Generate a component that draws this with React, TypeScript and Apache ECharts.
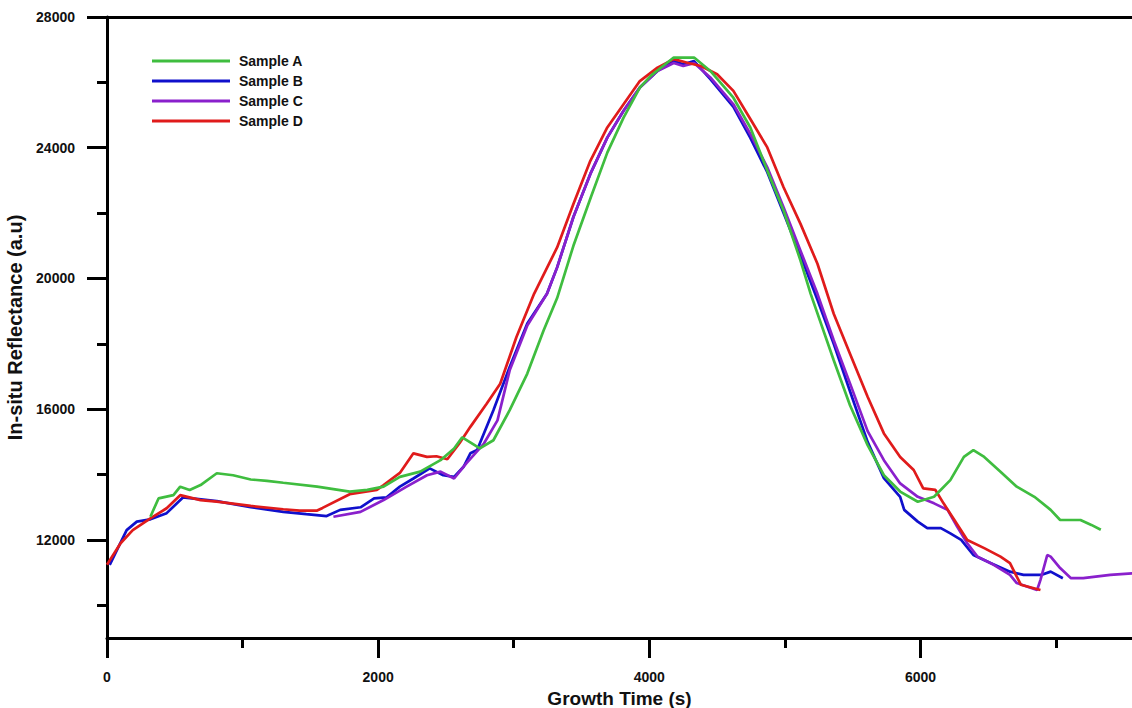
import React, { useEffect, useRef } from "react";
import * as echarts from "echarts";

const seriesNames = ["Sample A", "Sample B", "Sample C", "Sample D"];
const seriesColors = ["#3fbd3f", "#1010cc", "#8a20cc", "#e01b1b"];

const xMajorTicks = [0, 2000, 4000, 6000];
const xMinorTicks = [1000, 3000, 5000, 7000];
const yMajorTicks = [12000, 16000, 20000, 24000, 28000];
const yMinorTicks = [10000, 14000, 18000, 22000, 26000];

// Sample A (green)
const sampleATime = [320, 380, 490, 540, 610, 690, 810, 930, 1060, 1180, 1300, 1550, 1790, 1920, 2040, 2160, 2310, 2460, 2560, 2620, 2750, 2850, 2970, 3100, 3220, 3320, 3440, 3570, 3690, 3810, 3930, 4010, 4180, 4330, 4450, 4620, 4745, 4870, 4990, 5115, 5190, 5360, 5480, 5610, 5730, 5850, 5980, 6100, 6220, 6320, 6390, 6470, 6590, 6710, 6840, 6960, 7030, 7180, 7260, 7330];
const sampleAValue = [12710, 13270, 13370, 13630, 13530, 13680, 14040, 13980, 13850, 13810, 13750, 13630, 13480, 13530, 13630, 13930, 14090, 14440, 14800, 15140, 14800, 15050, 15970, 17090, 18410, 19400, 21000, 22500, 23850, 24920, 25840, 26200, 26760, 26760, 26350, 25530, 24620, 23300, 22080, 20550, 19530, 17500, 16120, 14900, 13980, 13480, 13170, 13320, 13830, 14540, 14750, 14540, 14090, 13630, 13320, 12920, 12610, 12610, 12460, 12310];

// Sample B (blue)
const sampleBTime = [20, 145, 220, 320, 440, 560, 810, 1060, 1300, 1470, 1620, 1720, 1870, 1970, 2060, 2160, 2260, 2380, 2480, 2560, 2630, 2680, 2730, 2850, 2970, 3100, 3245, 3320, 3440, 3565, 3690, 3810, 3930, 4060, 4180, 4250, 4330, 4450, 4620, 4745, 4870, 4990, 5115, 5240, 5360, 5480, 5610, 5730, 5850, 5880, 5980, 6050, 6150, 6220, 6300, 6390, 6520, 6660, 6760, 6890, 6960, 7050];
const sampleBValue = [11240, 12300, 12560, 12630, 12820, 13300, 13190, 13000, 12860, 12790, 12730, 12920, 13000, 13270, 13300, 13630, 13880, 14190, 13980, 13930, 14240, 14650, 14750, 15970, 17290, 18620, 19530, 20340, 21880, 23200, 24310, 25130, 25840, 26350, 26650, 26550, 26650, 26100, 25250, 24300, 23250, 22000, 20700, 19350, 18000, 16550, 15000, 13890, 13320, 12920, 12560, 12360, 12360, 12200, 12000, 11540, 11290, 11030, 10930, 10930, 11030, 10830];

// Sample C (purple)
const sampleCTime = [1670, 1870, 2040, 2210, 2360, 2460, 2560, 2650, 2780, 2880, 2970, 3100, 3245, 3320, 3440, 3565, 3690, 3810, 3930, 4060, 4180, 4250, 4330, 4450, 4620, 4745, 4870, 4990, 5115, 5240, 5360, 5480, 5610, 5730, 5850, 5980, 6100, 6200, 6270, 6345, 6420, 6540, 6660, 6710, 6790, 6860, 6885, 6935, 6960, 7030, 7110, 7200, 7400, 7565];
const sampleCValue = [12710, 12860, 13220, 13630, 13980, 14090, 13880, 14340, 14950, 15660, 17190, 18560, 19530, 20340, 21880, 23200, 24310, 25130, 25840, 26350, 26590, 26500, 26590, 26150, 25330, 24420, 23400, 22180, 20850, 19530, 18110, 16790, 15330, 14440, 13730, 13320, 13120, 12920, 12410, 11900, 11490, 11240, 10930, 10680, 10570, 10470, 10780, 11540, 11490, 11140, 10830, 10830, 10930, 10980];

// Sample D (red)
const sampleDTime = [0, 100, 190, 320, 440, 540, 690, 810, 1060, 1300, 1420, 1550, 1590, 1790, 1990, 2040, 2160, 2260, 2360, 2430, 2510, 2600, 2680, 2800, 2900, 3020, 3150, 3320, 3440, 3565, 3690, 3810, 3930, 4060, 4180, 4280, 4380, 4500, 4620, 4745, 4870, 4990, 5115, 5240, 5360, 5480, 5610, 5730, 5850, 5950, 6020, 6110, 6170, 6250, 6345, 6470, 6590, 6660, 6710, 6740, 6885];
const sampleDValue = [11240, 11900, 12300, 12660, 12970, 13370, 13220, 13170, 13040, 12940, 12900, 12900, 12980, 13400, 13530, 13680, 14050, 14650, 14540, 14560, 14470, 14960, 15460, 16170, 16780, 18210, 19530, 20950, 22280, 23600, 24620, 25330, 26040, 26450, 26710, 26600, 26500, 26250, 25740, 24880, 24010, 22790, 21670, 20450, 18920, 17700, 16380, 15260, 14540, 14140, 13580, 13530, 13120, 12610, 12000, 11750, 11490, 11290, 10880, 10630, 10470];

const FONT = "'Liberation Sans', Arial, Helvetica, sans-serif";
const AXIS_LINE = { color: "#000", width: 3 };

function pairs(xs: number[], ys: number[]) {
  return xs.map((x, i) => [x, ys[i]]);
}

const plain = (v: number) => String(v);

export default function App() {
  const ref = useRef<HTMLDivElement>(null);

  useEffect(() => {
    if (!ref.current) return;
    const chart = echarts.init(ref.current, undefined, { renderer: "svg" });

    const mk = (idx: number, xs: number[], ys: number[], z: number) => ({
      name: seriesNames[idx],
      type: "line",
      data: pairs(xs, ys),
      showSymbol: false,
      symbol: "none",
      color: seriesColors[idx],
      lineStyle: { width: 2.7, color: seriesColors[idx] },
      itemStyle: { color: seriesColors[idx] },
      xAxisIndex: 0,
      yAxisIndex: 0,
      clip: true,
      z,
    });

    const option: any = {
      animation: false,
      backgroundColor: "#ffffff",
      textStyle: { fontFamily: FONT },
      grid: {
        left: 107,
        right: 0,
        top: 17,
        bottom: 70,
        containLabel: false,
        outerBoundsMode: "none",
      },
      legend: {
        data: seriesNames,
        orient: "vertical",
        left: 152,
        top: 54,
        padding: 0,
        icon: "rect",
        itemWidth: 78,
        itemHeight: 3,
        itemGap: 6,
        textStyle: {
          fontFamily: FONT,
          fontSize: 14,
          fontWeight: "bold",
          color: "#111",
          padding: [0, 0, 0, 4],
        },
      },
      xAxis: [
        {
          type: "value",
          min: 0,
          max: 7560,
          position: "bottom",
          name: "Growth Time (s)",
          nameLocation: "middle",
          nameGap: 47,
          nameTextStyle: { fontFamily: FONT, fontSize: 19, fontWeight: "bold", color: "#111" },
          axisLine: { show: true, onZero: false, lineStyle: AXIS_LINE },
          axisTick: { show: true, customValues: xMajorTicks, length: 20, lineStyle: AXIS_LINE },
          axisLabel: {
            customValues: xMajorTicks,
            formatter: plain,
            margin: 32,
            fontFamily: FONT,
            fontSize: 14,
            fontWeight: "bold",
            color: "#111",
          },
          splitLine: { show: false },
        },
        {
          type: "value",
          min: 0,
          max: 7560,
          position: "bottom",
          axisLine: { show: false, onZero: false },
          axisTick: { show: true, customValues: xMinorTicks, length: 10, lineStyle: AXIS_LINE },
          axisLabel: { show: false },
          splitLine: { show: false },
        },
        {
          type: "value",
          min: 0,
          max: 7560,
          position: "top",
          axisLine: { show: true, onZero: false, lineStyle: AXIS_LINE },
          axisTick: { show: false },
          axisLabel: { show: false },
          splitLine: { show: false },
        },
      ],
      yAxis: [
        {
          type: "value",
          min: 9000,
          max: 28000,
          position: "left",
          name: "In-situ Reflectance (a.u)",
          nameLocation: "middle",
          nameGap: 77,
          nameTextStyle: { fontFamily: FONT, fontSize: 20, fontWeight: "bold", color: "#111" },
          axisLine: { show: true, onZero: false, lineStyle: AXIS_LINE },
          axisTick: { show: true, customValues: yMajorTicks, length: 20, lineStyle: AXIS_LINE },
          axisLabel: {
            customValues: yMajorTicks,
            formatter: plain,
            margin: 32,
            fontFamily: FONT,
            fontSize: 14,
            fontWeight: "bold",
            color: "#111",
          },
          splitLine: { show: false },
        },
        {
          type: "value",
          min: 9000,
          max: 28000,
          position: "left",
          axisLine: { show: false, onZero: false },
          axisTick: { show: true, customValues: yMinorTicks, length: 10, lineStyle: AXIS_LINE },
          axisLabel: { show: false },
          splitLine: { show: false },
        },
      ],
      series: [
        mk(1, sampleBTime, sampleBValue, 2),
        mk(2, sampleCTime, sampleCValue, 3),
        mk(3, sampleDTime, sampleDValue, 4),
        mk(0, sampleATime, sampleAValue, 5),
      ],
    };

    chart.setOption(option);
    return () => {
      chart.dispose();
    };
  }, []);

  return (
    <div
      ref={ref}
      style={{ position: "fixed", left: 0, top: 0, width: 1132, height: 708, background: "#fff" }}
    />
  );
}
